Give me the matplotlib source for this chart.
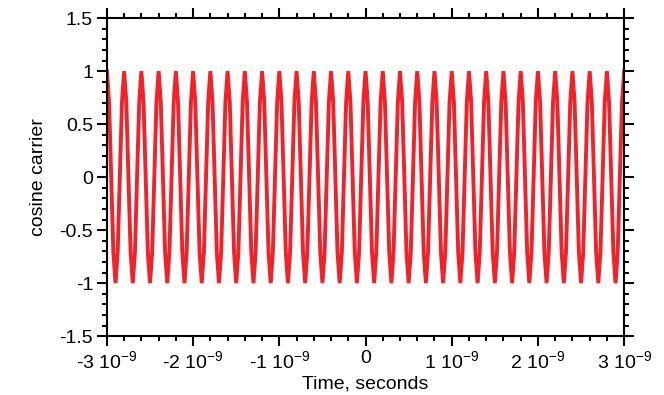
import numpy as np
import matplotlib
matplotlib.use("Agg")
import matplotlib.pyplot as plt
from matplotlib.ticker import MultipleLocator, FuncFormatter

plt.rcParams['font.family'] = ['Liberation Sans', 'DejaVu Sans']
plt.rcParams['mathtext.fontset'] = 'custom'
plt.rcParams['mathtext.rm'] = 'Liberation Sans'

# one carrier period as sampled in the plot (8 samples per cycle)
cycle_values = [1.0, 0.71, 0.0, -0.71, -1.0, -0.71, 0.0, 0.71]
n_cycles = 30
t_start = -3e-9
t_stop = 3e-9

y = np.append(np.tile(cycle_values, n_cycles), cycle_values[0])
t = np.linspace(t_start, t_stop, len(y))

fig = plt.figure(figsize=(6.64, 3.95), dpi=100)
ax = fig.add_axes([0.161, 0.149, 0.779, 0.805])

ax.plot(t, y, color='#f0222a', lw=2.8, solid_joinstyle='miter')

ax.set_xlim(t_start, t_stop)
ax.set_ylim(-1.5, 1.5)

def xfmt(v, pos):
    n = int(round(v / 1e-9))
    if n == 0:
        return '0'
    return r'%d 10$^{-9}$' % n

ax.xaxis.set_major_locator(MultipleLocator(1e-9))
ax.xaxis.set_minor_locator(MultipleLocator(0.2e-9))
ax.xaxis.set_major_formatter(FuncFormatter(xfmt))
ax.yaxis.set_major_locator(MultipleLocator(0.5))
ax.yaxis.set_minor_locator(MultipleLocator(0.1))
ax.yaxis.set_major_formatter(FuncFormatter(lambda v, p: '%g' % v))

for s in ax.spines.values():
    s.set_linewidth(1.5)
ax.tick_params(which='both', direction='out', top=True, right=True, width=1.5, labelsize=14)
ax.tick_params(which='major', length=7, pad=3)
ax.tick_params(which='minor', length=3.5)

ax.set_xlabel('Time, seconds', fontsize=14, labelpad=2)
ax.set_ylabel('cosine carrier', fontsize=14, labelpad=9)

fig.savefig('out.png', dpi=100)
